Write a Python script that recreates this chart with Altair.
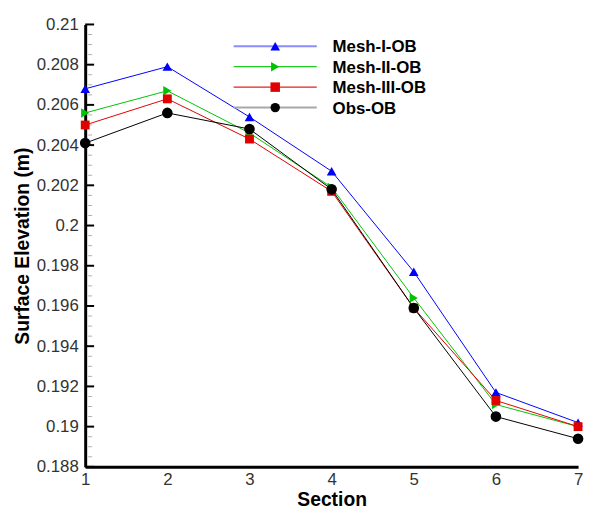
import altair as alt
import pandas as pd

# ---- data ----
sections = [1, 2, 3, 4, 5, 6, 7]
series_names = ["Mesh-I-OB", "Mesh-II-OB", "Mesh-III-OB", "Obs-OB"]
mesh1 = [0.2068, 0.2079, 0.2054, 0.2027, 0.1977, 0.1917, 0.1902]
mesh2 = [0.2056, 0.2067, 0.2046, 0.2019, 0.1964, 0.1911, 0.1900]
mesh3 = [0.2050, 0.2063, 0.2043, 0.2017, 0.1959, 0.1913, 0.1900]
obs = [0.2041, 0.2056, 0.2048, 0.2018, 0.1959, 0.1905, 0.1894]

y_major = [0.188, 0.19, 0.192, 0.194, 0.196, 0.198, 0.2, 0.202, 0.204, 0.206, 0.208, 0.21]
y_minor = [round(m + k * 0.0005, 4) for m in y_major[:-1] for k in (1, 2, 3)]
x_ticks = [1, 2, 3, 4, 5, 6, 7]

# ---- styles ----
series_colors = ["#0000ff", "#00c400", "#e00000", "#000000"]
legend_line_colors = ["#8c8cff", "#22cc22", "#e02020", "#a8a8a8"]
legend_line_widths = [2.2, 1.2, 1.2, 2.0]
marker_shapes = ["triangle-up", "triangle-right", "square", "circle"]
marker_sizes = [95, 90, 80, 115]

FONT = "Liberation Sans, Arial, sans-serif"

rows = []
for name, vals in zip(series_names, [mesh1, mesh2, mesh3, obs]):
    for s, v in zip(sections, vals):
        rows.append({"section": s, "value": v, "series": name})
df = pd.DataFrame(rows)
leg_df = pd.DataFrame({"series": series_names})

yscale = alt.Scale(domain=[0.188, 0.21], nice=False, zero=False)
xscale = alt.Scale(domain=[1, 7], nice=False, zero=False)

Y = alt.Y(
    "value:Q",
    scale=yscale,
    axis=alt.Axis(
        values=y_major,
        format="~g",
        title="Surface Elevation (m)",
        grid=False,
        ticks=False,
        tickSize=0,
        labelPadding=7,
        titlePadding=4,
    ),
)
X = alt.X(
    "section:Q",
    scale=xscale,
    axis=alt.Axis(
        values=x_ticks,
        format="d",
        title="Section",
        grid=False,
        ticks=False,
        tickSize=0,
        labelFlush=False,
        labelPadding=5,
        titlePadding=3,
    ),
)

color_scale = alt.Scale(domain=series_names, range=series_colors)

lines = alt.Chart(df).mark_line(strokeWidth=1).encode(
    x=X, y=Y,
    color=alt.Color("series:N", scale=color_scale, legend=None),
    detail="series:N",
)

point_layers = []
for name, col, shp, sz in zip(series_names, series_colors, marker_shapes, marker_sizes):
    point_layers.append(
        alt.Chart(df)
        .transform_filter(alt.datum.series == name)
        .mark_point(filled=True, opacity=1, shape=shp, size=sz, color=col)
        .encode(x=X, y=Y)
    )

major_ticks = alt.Chart(pd.DataFrame({"value": y_major})).mark_tick(
    orient="horizontal", color="#000000", thickness=2, size=9, opacity=1
).encode(y=Y, x=alt.value(4.5))
minor_ticks = alt.Chart(pd.DataFrame({"value": y_minor})).mark_tick(
    orient="horizontal", color="#b0b0b0", thickness=1, size=4, opacity=1
).encode(y=Y, x=alt.value(5))

main = alt.layer(minor_ticks, major_ticks, lines, *point_layers)

# ---- legend (line + marker + bold label per series) ----
LY = alt.Y(
    "series:N",
    scale=alt.Scale(type="point", domain=series_names, range=[22, 84], padding=0),
    axis=None,
)
leg_lines = []
for name, col, w in zip(series_names, legend_line_colors, legend_line_widths):
    leg_lines.append(
        alt.Chart(leg_df)
        .transform_filter(alt.datum.series == name)
        .mark_tick(orient="horizontal", size=84, thickness=w, color=col, opacity=1)
        .encode(y=LY, x=alt.value(192))
    )
leg_marks = alt.Chart(leg_df).mark_point(filled=True, opacity=1).encode(
    y=LY,
    x=alt.value(192),
    color=alt.Color("series:N", scale=color_scale, legend=None),
    shape=alt.Shape("series:N", scale=alt.Scale(domain=series_names, range=marker_shapes), legend=None),
    size=alt.Size("series:N", scale=alt.Scale(domain=series_names, range=marker_sizes), legend=None),
)
leg_text = alt.Chart(leg_df).mark_text(
    align="left", baseline="middle", font=FONT, fontSize=17, fontWeight="bold", color="#000000", dy=1
).encode(y=LY, x=alt.value(250), text="series:N")

legend = alt.layer(*leg_lines, leg_marks, leg_text)

chart = (
    alt.layer(main, legend)
    .resolve_scale(y="independent")
    .properties(width=498, height=447, padding={"left": 4, "top": 5, "right": 0, "bottom": 0})
    .configure_view(stroke=None)
    .configure_axis(
        domainColor="#000000",
        domainWidth=3,
        labelFont=FONT,
        labelFontSize=17,
        labelColor="#333333",
        titleFont=FONT,
        titleFontSize=19.5,
        titleFontWeight="bold",
        titleColor="#000000",
    )
)

chart.save("out.html", embed_options={"renderer": "svg", "actions": False})
